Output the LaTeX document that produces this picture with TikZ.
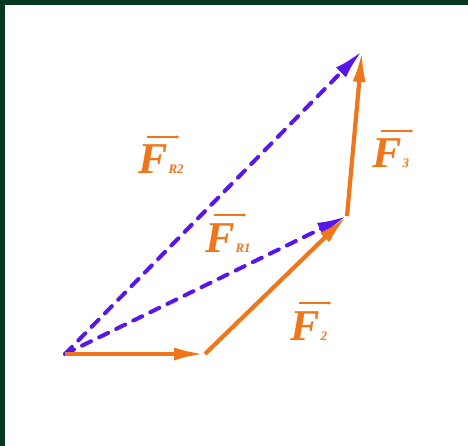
\documentclass[tikz,border=0pt]{standalone}
\usepackage{fontspec}
\setmainfont{Liberation Serif}
\usetikzlibrary{arrows.meta}
\definecolor{forceor}{RGB}{240,118,28}
\definecolor{resblue}{RGB}{88,22,232}
\definecolor{frame}{RGB}{6,56,34}
\tikzset{
  force/.style={draw=forceor,line width=4.2pt,-{Latex[length=31pt,width=13pt]}},
  result/.style={draw=resblue,line width=4pt,line cap=round,dash pattern=on 10pt off 9pt,-{Latex[length=30pt,width=14pt]}},
  flabel/.style={text=forceor,inner sep=0pt,anchor=base west},
  vecarrow/.style={draw=forceor,line width=1.1pt,-{Latex[length=4pt,width=3.5pt]}}
}
\newcommand{\bigF}{{\fontsize{44}{44}\selectfont\bfseries\itshape F}}
\newcommand{\smallsub}[1]{{\fontsize{13}{13}\selectfont\bfseries\itshape #1}}
\begin{document}
\begin{tikzpicture}[x=1pt,y=-1pt]
\useasboundingbox (0,0) rectangle (468,446);
\fill[white] (0,0) rectangle (468,446);
\fill[frame] (0,0) rectangle (468,5);
\fill[frame] (0,0) rectangle (5,446);
\coordinate (O) at (65,354);
\coordinate (A) at (205,354);
\coordinate (B) at (347,216);
\coordinate (C) at (362,51);
\draw[result] (O) -- (B);
\draw[result] (O) -- (C);
\draw[force] (O) -- (A);
\draw[force] (A) -- (B);
\draw[force] (B) -- (C);
\node[flabel] (FR2) at (138,174) {\bigF\kern1pt\smallsub{R2}};
\node[flabel] (FR1) at (205,252) {\bigF\kern1pt\smallsub{R1}};
\node[flabel] (F3) at (372,168) {\bigF\kern1pt\smallsub{3}};
\node[flabel] (F2) at (290,340) {\bigF\kern1pt\smallsub{2}};
\foreach \n in {FR2,FR1,F3,F2}{
  \draw[vecarrow] ([xshift=9pt,yshift=37pt]\n.base west) -- ([xshift=42pt,yshift=37pt]\n.base west);
}
\end{tikzpicture}
\end{document}
